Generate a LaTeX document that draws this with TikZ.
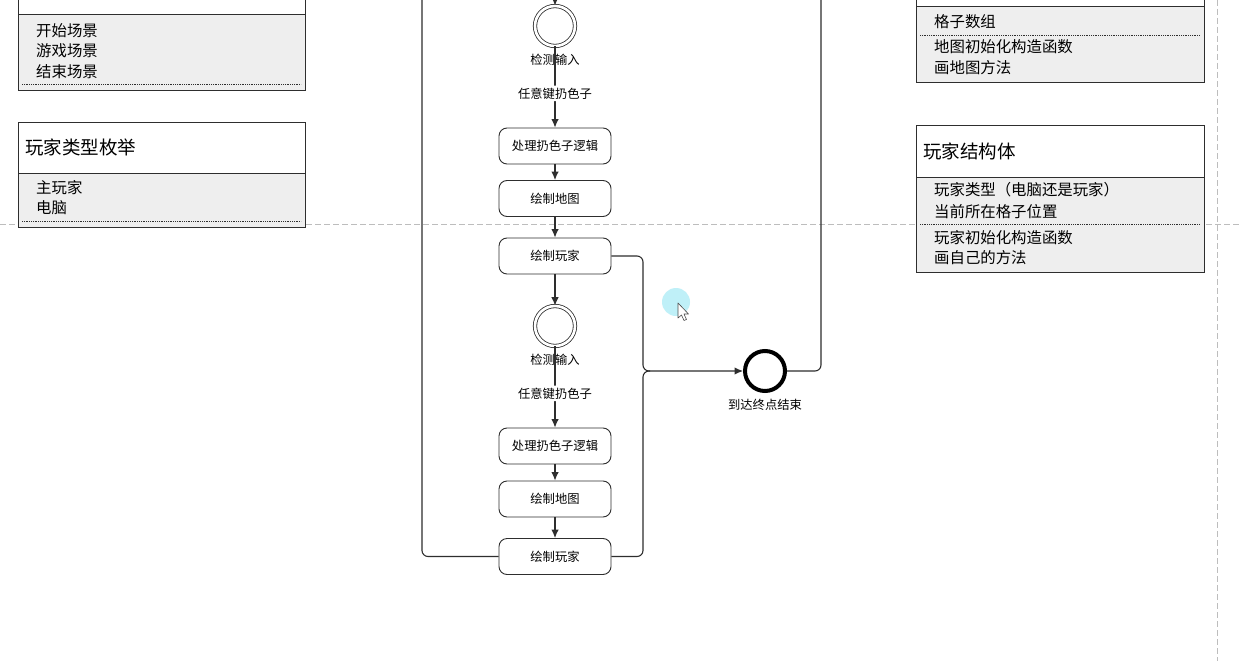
\documentclass[tikz,border=0pt]{standalone}
\usepackage{fontspec}
\setmainfont{Noto Sans CJK SC}
\usetikzlibrary{arrows.meta}

\definecolor{edge}{HTML}{2E2E2E}
\definecolor{compart}{HTML}{EEEEEE}
\definecolor{pagebreak}{HTML}{BDBDBD}
\definecolor{halo}{HTML}{BFF0F8}

\tikzset{
  flowbox/.style={draw=edge, line width=0.9pt, fill=white, rounded corners=8pt,
    minimum width=112pt, minimum height=36pt, inner sep=0pt,
    font=\fontsize{12.3}{14}\selectfont},
  startev/.style={circle, draw=edge, line width=0.8pt, double=white,
    double distance=2.6pt, minimum size=40pt, inner sep=0pt},
  endev/.style={circle, draw=black, line width=4pt, minimum size=40pt, inner sep=0pt},
  evlabel/.style={font=\fontsize{12.3}{14}\selectfont, inner sep=0pt},
  flowlabel/.style={font=\fontsize{12.3}{14}\selectfont, fill=white, inner sep=2pt},
  conn/.style={draw=edge, line width=1.1pt, rounded corners=6pt},
  arr/.style={conn, -{Latex[length=8.5pt,width=7.5pt]}},
  clsframe/.style={draw=edge, line width=1pt},
  clsfill/.style={fill=compart},
  clssep/.style={draw=edge, line width=0.6pt, dash pattern=on 1pt off 0.8pt},
  clstitle/.style={anchor=west, font=\fontsize{18.5}{20}\selectfont, inner sep=0pt},
  clsitem/.style={anchor=west, font=\fontsize{15.4}{17}\selectfont, inner sep=0pt},
  pgbreak/.style={draw=pagebreak, line width=0.8pt, dash pattern=on 6pt off 3pt},
}

\begin{document}
\begin{tikzpicture}[x=1pt, y=-1pt]
\useasboundingbox (0,0) rectangle (1239,661);
\clip (0,0) rectangle (1239,661);
\fill[white] (0,0) rectangle (1239,661);

% page-break guides
\draw[pgbreak] (0,224) -- (1239,224);
\draw[pgbreak] (1217,0) -- (1217,661);

% ---- scene enum (top left) ----
\fill[white] (18,-30) rectangle (305,15);
\fill[clsfill] (18,15) rectangle (305,90);
\draw[clsframe] (18,-30) rectangle (305,90);
\draw[clsframe] (18,15) -- (305,15);
\node[clsitem] (sc1) at (36,30.5) {开始场景};
\node[clsitem] (sc2) at (36,50.5) {游戏场景};
\node[clsitem] (sc3) at (36,71.5) {结束场景};
\draw[clssep] (22,84) -- (301,84);

% ---- player type enum ----
\fill[white] (18,122) rectangle (305,173);
\fill[clsfill] (18,173) rectangle (305,227.5);
\draw[clsframe] (18,122) rectangle (305,227.5);
\draw[clsframe] (18,173) -- (305,173);
\node[clstitle] (ptT) at (25,147.5) {玩家类型枚举};
\node[clsitem] (pt1) at (36,187.5) {主玩家};
\node[clsitem] (pt2) at (36,207.5) {电脑};
\draw[clssep] (22,221) -- (301,221);

% ---- map struct (top right) ----
\fill[white] (916,-30) rectangle (1204,7);
\fill[clsfill] (916,7) rectangle (1204,82);
\draw[clsframe] (916,-30) rectangle (1204,82);
\draw[clsframe] (916,7) -- (1204,7);
\node[clsitem] (mp1) at (934,21.5) {格子数组};
\draw[clssep] (920,35) -- (1200,35);
\node[clsitem] (mp2) at (934,46.5) {地图初始化构造函数};
\node[clsitem] (mp3) at (934,67.5) {画地图方法};

% ---- player struct ----
\fill[white] (916,125) rectangle (1204,177);
\fill[clsfill] (916,177) rectangle (1204,272);
\draw[clsframe] (916,125) rectangle (1204,272);
\draw[clsframe] (916,177) -- (1204,177);
\node[clstitle] (plT) at (923,151.5) {玩家结构体};
\node[clsitem] (pl1) at (934,189.5) {玩家类型（电脑还是玩家）};
\node[clsitem] (pl2) at (934,211.5) {当前所在格子位置};
\draw[clssep] (920,224) -- (1200,224);
\node[clsitem] (pl3) at (934,237.5) {玩家初始化构造函数};
\node[clsitem] (pl4) at (934,257.5) {画自己的方法};

% ---- activity flow ----
\coordinate (inA) at (555,-12);
\coordinate (topL) at (422,-12);
\coordinate (topR) at (821,-12);
\coordinate (join) at (643,371);

\node[startev] (c1) at (555,26) {};
\node[evlabel] (l1) at (555,60) {检测输入};
\node[flowbox] (b1) at (555,146) {处理扔色子逻辑};
\node[flowbox] (b2) at (555,198.5) {绘制地图};
\node[flowbox] (b3) at (555,256) {绘制玩家};

\node[startev] (c2) at (555,326) {};
\node[evlabel] (l2) at (555,360) {检测输入};
\node[flowbox] (b4) at (555,446) {处理扔色子逻辑};
\node[flowbox] (b5) at (555,499) {绘制地图};
\node[flowbox] (b6) at (555,556.5) {绘制玩家};

\node[endev] (fin) at (765,371) {};
\node[evlabel] (lf) at (765,405) {到达终点结束};

\draw[arr] (inA) -- (c1);
\draw[arr] (c1) -- (b1) node[flowlabel, pos=0.58] (k1) {任意键扔色子};
\draw[arr] (b1) -- (b2);
\draw[arr] (b2) -- (b3);
\draw[arr] (b3) -- (c2);
\draw[arr] (c2) -- (b4) node[flowlabel, pos=0.58] (k2) {任意键扔色子};
\draw[arr] (b4) -- (b5);
\draw[arr] (b5) -- (b6);

\draw[arr] (b3.east) -| (join) -- (fin.west);
\draw[conn] (b6.east) -| (join) -- ++(7,0);
\draw[conn] (b6.west) -| (topL);
\draw[conn] (fin.east) -| (topR);

% pointer highlight
\fill[halo] (676,302) circle (14);
\draw[fill=white, draw=black!70, line width=0.6pt, line join=round]
  (678,303) -- (678,318) -- (681.5,315) -- (684,320.5) -- (686.5,319.5)
  -- (684,314) -- (688.5,314) -- cycle;
\end{tikzpicture}
\end{document}
